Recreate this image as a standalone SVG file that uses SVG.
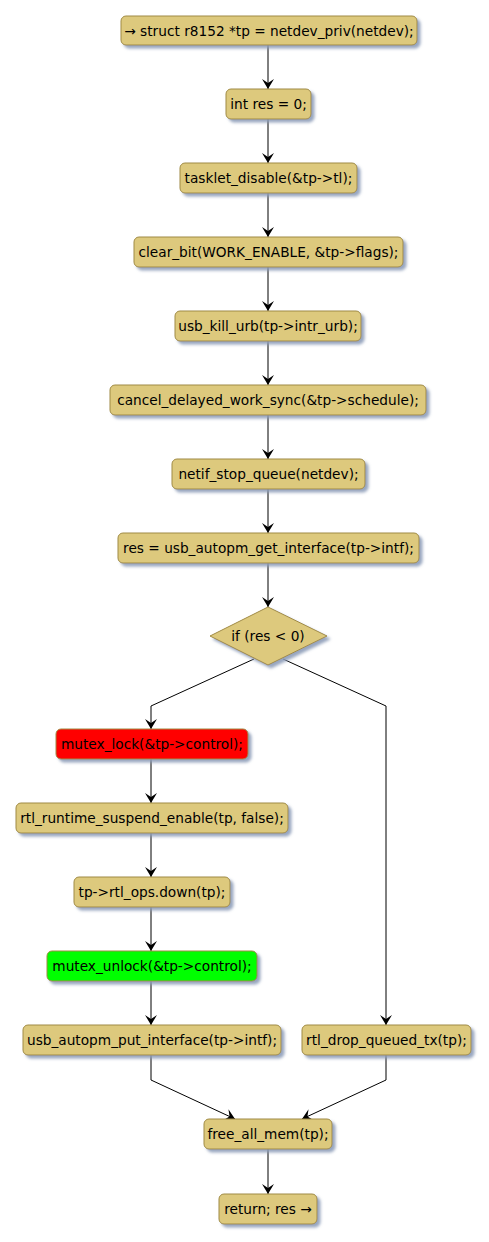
<svg xmlns="http://www.w3.org/2000/svg" width="489" height="1242" viewBox="0 0 489 1242">
<defs>
<filter id="sh" x="-10%" y="-20%" width="130%" height="160%">
<feGaussianBlur in="SourceAlpha" stdDeviation="1.5"/>
<feOffset dx="3" dy="3" result="b"/>
<feFlood flood-color="#8C9CB8" flood-opacity="0.9"/>
<feComposite in2="b" operator="in"/>
<feMerge><feMergeNode/><feMergeNode in="SourceGraphic"/></feMerge>
</filter>
<marker id="ah" viewBox="0 0 10 12" refX="10" refY="6" markerWidth="10" markerHeight="12" markerUnits="userSpaceOnUse" orient="auto">
<path d="M0,0 L10,6 L0,12 L4,6 Z" fill="#000"/>
</marker>
</defs>
<style>
.n{fill:#DDC97D;stroke:#A08B45;stroke-width:1;filter:url(#sh)}
.r{fill:#FF0000}
.g{fill:#00FF00}
text{font-family:"DejaVu Sans",sans-serif;font-size:13.7px;fill:#000;text-anchor:middle}
.c line,.c polyline{stroke:#000;stroke-width:1;fill:none;marker-end:url(#ah)}
</style>
<rect width="489" height="1242" fill="#fff"/>
<g class="c" id="connectors">
<line x1="268" y1="45" x2="268" y2="89"/>
<line x1="268" y1="119" x2="268" y2="163"/>
<line x1="268" y1="193" x2="268" y2="237"/>
<line x1="268" y1="267" x2="268" y2="311"/>
<line x1="268" y1="341" x2="268" y2="385"/>
<line x1="268" y1="415" x2="268" y2="459"/>
<line x1="268" y1="489" x2="268" y2="533"/>
<line x1="268" y1="563" x2="268" y2="607"/>
<polyline points="254,659 151,706 151,729"/>
<polyline points="283,659 386,706 386,1025"/>
<line x1="151" y1="759" x2="151" y2="803"/>
<line x1="151" y1="833" x2="151" y2="877"/>
<line x1="151" y1="907" x2="151" y2="951"/>
<line x1="151" y1="981" x2="151" y2="1025"/>
<polyline points="151,1055 151,1080 235,1119"/>
<polyline points="386,1055 386,1080 302,1119"/>
<line x1="268" y1="1149" x2="268" y2="1194"/>
</g>
<g id="n1"><rect class="n" x="121" y="16" width="296" height="29" rx="5"/><text x="269" y="35.5">→ struct r8152 *tp = netdev_priv(netdev);</text></g>
<g id="n2"><rect class="n" x="226" y="89" width="85" height="30" rx="5"/><text x="268.5" y="109">int res = 0;</text></g>
<g id="n3"><rect class="n" x="180" y="163" width="177" height="30" rx="5"/><text x="268.5" y="183">tasklet_disable(&amp;tp-&gt;tl);</text></g>
<g id="n4"><rect class="n" x="134" y="237" width="269" height="30" rx="5"/><text x="268.5" y="257">clear_bit(WORK_ENABLE, &amp;tp-&gt;flags);</text></g>
<g id="n5"><rect class="n" x="175" y="311" width="186" height="30" rx="5"/><text x="268" y="331">usb_kill_urb(tp-&gt;intr_urb);</text></g>
<g id="n6"><rect class="n" x="110" y="385" width="316" height="30" rx="5"/><text x="268" y="405">cancel_delayed_work_sync(&amp;tp-&gt;schedule);</text></g>
<g id="n7"><rect class="n" x="172" y="459" width="193" height="30" rx="5"/><text x="268.5" y="479">netif_stop_queue(netdev);</text></g>
<g id="n8"><rect class="n" x="118" y="533" width="301" height="30" rx="5"/><text x="268.5" y="553">res = usb_autopm_get_interface(tp-&gt;intf);</text></g>
<g id="d1"><polygon class="n" points="268,607 327,636 268,665 210,636"/><text x="268" y="641">if (res &lt; 0)</text></g>
<g id="n9"><rect class="n r" x="56" y="729" width="192" height="30" rx="5"/><text x="152" y="749">mutex_lock(&amp;tp-&gt;control);</text></g>
<g id="n10"><rect class="n" x="16" y="803" width="272" height="30" rx="5"/><text x="152" y="823">rtl_runtime_suspend_enable(tp, false);</text></g>
<g id="n11"><rect class="n" x="74" y="877" width="156" height="30" rx="5"/><text x="152" y="897">tp-&gt;rtl_ops.down(tp);</text></g>
<g id="n12"><rect class="n g" x="47" y="951" width="210" height="30" rx="5"/><text x="152" y="971">mutex_unlock(&amp;tp-&gt;control);</text></g>
<g id="n13"><rect class="n" x="23" y="1025" width="258" height="30" rx="5"/><text x="152" y="1045">usb_autopm_put_interface(tp-&gt;intf);</text></g>
<g id="n14"><rect class="n" x="302" y="1025" width="169" height="30" rx="5"/><text x="386.5" y="1045">rtl_drop_queued_tx(tp);</text></g>
<g id="n15"><rect class="n" x="204" y="1119" width="128" height="30" rx="5"/><text x="268" y="1139">free_all_mem(tp);</text></g>
<g id="n16"><rect class="n" x="219" y="1194" width="98" height="30" rx="5"/><text x="268" y="1214">return; res →</text></g>
</svg>
